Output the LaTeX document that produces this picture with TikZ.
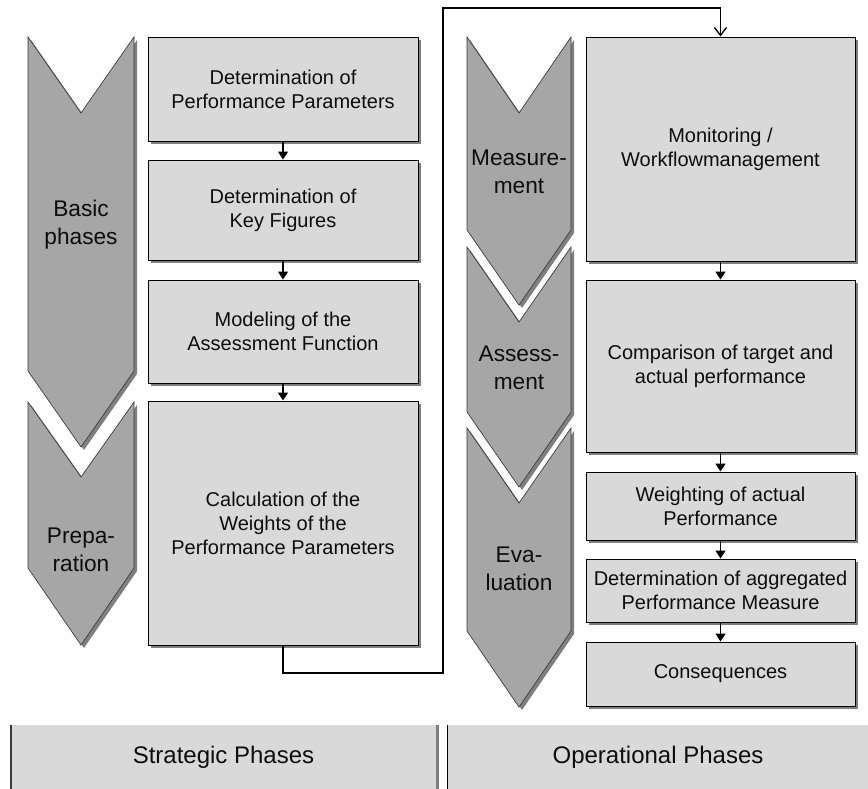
\documentclass[tikz,border=0pt]{standalone}
\usepackage{fontspec}
\setmainfont{Liberation Sans}
\usetikzlibrary{arrows.meta,shadows}
\definecolor{boxfill}{HTML}{D9D9D9}
\definecolor{chevfill}{HTML}{A6A6A6}
\definecolor{shadowgray}{HTML}{7F7F7F}
\definecolor{chevline}{HTML}{3A3A3A}
\definecolor{textc}{HTML}{0D0D0D}
\begin{document}
\begin{tikzpicture}[x=0.75pt,y=-0.75pt,
  shad/.style={drop shadow={shadow xshift=2.25pt,shadow yshift=-2.25pt,fill=shadowgray,opacity=1}},
  box/.style={draw=black,line width=0.7pt,fill=boxfill,shad,align=center,inner sep=0pt,text=textc,font=\fontsize{15}{18}\selectfont,minimum width=202.5pt},
  rbox/.style={box,minimum width=201.75pt},
  chev/.style={fill=chevfill,draw=chevline,line width=0.5pt,shad},
  chevtext/.style={align=center,inner sep=0pt,text=textc,font=\fontsize{17}{21}\selectfont},
  basebox/.style={fill=boxfill,inner sep=0pt,text=textc,minimum height=48pt,font=\fontsize{18}{22}\selectfont},
  arr/.style={-{Triangle[width=7.5pt,length=6pt]},line width=1.1pt},
  conn/.style={-{Straight Barb[width=9pt,length=6pt]},line width=1pt}
]
\useasboundingbox (0,0) rectangle (868,789);

% chevrons
\filldraw[chev] (28,37) -- (81,113) -- (134,37) -- (134,371) -- (81,447) -- (28,371) -- cycle;
\filldraw[chev] (28,402) -- (81,477) -- (134,402) -- (134,568) -- (81,645) -- (28,568) -- cycle;
\filldraw[chev] (467,37) -- (519,113) -- (571,37) -- (571,230) -- (519,305) -- (467,230) -- cycle;
\filldraw[chev] (467,247) -- (519,322) -- (571,247) -- (571,412) -- (519,487) -- (467,412) -- cycle;
\filldraw[chev] (467,428) -- (519,503) -- (571,428) -- (571,631) -- (519,707) -- (467,631) -- cycle;

\node[chevtext] (tbasic) at (81,225) {Basic\\phases};
\node[chevtext] (tprep) at (81,550) {Prepa-\\ration};
\node[chevtext] (tmeas) at (519,172) {Measure-\\ment};
\node[chevtext] (tass) at (519,368) {Assess-\\ment};
\node[chevtext] (teval) at (519,569) {Eva-\\luation};

% left boxes
\node[box,minimum height=78pt] (b1) at (283,89) {Determination of\\Performance Parameters};
\node[box,minimum height=75pt] (b2) at (283,210) {Determination of\\Key Figures};
\node[box,minimum height=77.25pt] (b3) at (283,331.5) {Modeling of the\\Assessment Function};
\node[box,minimum height=183pt] (b4) at (283,523) {Calculation of the\\Weights of the\\Performance Parameters};

% right boxes
\node[rbox,minimum height=168pt] (m1) at (720.5,149) {Monitoring /\\Workflowmanagement};
\node[rbox,minimum height=129pt] (m2) at (720.5,366) {Comparison of target and\\actual performance};
\node[rbox,minimum height=51pt] (m3) at (720.5,506) {Weighting of actual\\Performance};
\node[rbox,minimum height=47.25pt] (m4) at (720.5,590.5) {Determination of aggregated\\Performance Measure};
\node[rbox,minimum height=48pt] (m5) at (720.5,674) {Consequences};

% arrows
\draw[arr] (b1.south) -- (b2.north);
\draw[arr] (b2.south) -- (b3.north);
\draw[arr] (b3.south) -- (b4.north);
\draw[arr] (m1.south) -- (m2.north);
\draw[arr] (m2.south) -- (m3.north);
\draw[arr] (m3.south) -- (m4.north);
\draw[arr] (m4.south) -- (m5.north);

\coordinate (c1) at (443,673);
\coordinate (c2) at (443,8);
\draw[conn] (b4.south) |- (c1) -- (c2) -| (m1.north);

% bottom phase bars
\node[basebox,minimum width=318.75pt] (sp) at (223.5,757) {Strategic Phases};
\node[basebox,minimum width=315pt] (op) at (658,757) {Operational Phases};
\draw[line width=1.2pt,draw=chevline] (sp.north west) -- (sp.south west);
\fill[shadowgray] (sp.north east) rectangle ++(3,64);
\draw[line width=0.9pt] (op.north west) -- (op.south west);
\end{tikzpicture}
\end{document}
